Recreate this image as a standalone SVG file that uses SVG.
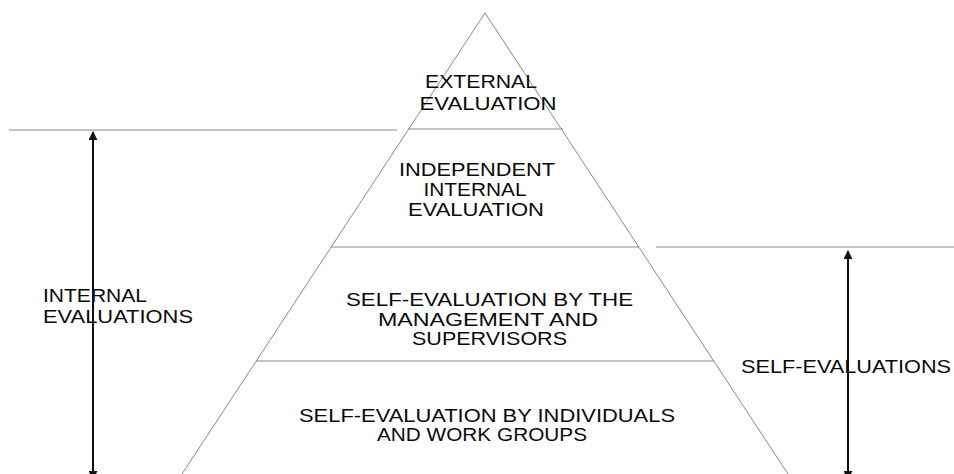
<svg xmlns="http://www.w3.org/2000/svg" width="954" height="474" viewBox="0 0 954 474">
<defs>
<style>
.ln{stroke:#8a8a8a;stroke-width:1;fill:none}
.ar{stroke:#111;stroke-width:2;fill:none}
text{font-family:"Liberation Sans",Arial,sans-serif;font-size:18.5px;fill:#0a0a0a}
.c{text-anchor:middle}
</style>
<marker id="ah" viewBox="0 0 10 10" refX="9" refY="5" markerWidth="4.5" markerHeight="4.5" orient="auto-start-reverse" markerUnits="strokeWidth">
<path d="M0,0 L10,5 L0,10 z" fill="#111"/>
</marker>
</defs>
<rect width="954" height="474" fill="#fff"/>
<g id="pyramid">
<polyline class="ln" points="182,474 485,13 788,474"/>
</g>
<g id="external-evaluation">
<text class="c" x="481" y="88" textLength="112" lengthAdjust="spacingAndGlyphs">EXTERNAL</text>
<text class="c" x="488" y="110" textLength="137" lengthAdjust="spacingAndGlyphs">EVALUATION</text>
</g>
<g id="independent-internal-evaluation">
<line class="ln" x1="408" y1="129" x2="563" y2="129"/>
<text class="c" x="477" y="176" textLength="156" lengthAdjust="spacingAndGlyphs">INDEPENDENT</text>
<text class="c" x="475" y="196" textLength="103" lengthAdjust="spacingAndGlyphs">INTERNAL</text>
<text class="c" x="476" y="216" textLength="136" lengthAdjust="spacingAndGlyphs">EVALUATION</text>
</g>
<g id="self-evaluation-management">
<line class="ln" x1="331" y1="247" x2="639" y2="247"/>
<text class="c" x="489.5" y="306" textLength="287" lengthAdjust="spacingAndGlyphs">SELF-EVALUATION BY THE</text>
<text class="c" x="488" y="325.5" textLength="220" lengthAdjust="spacingAndGlyphs">MANAGEMENT AND</text>
<text class="c" x="489.5" y="345" textLength="155" lengthAdjust="spacingAndGlyphs">SUPERVISORS</text>
</g>
<g id="self-evaluation-individuals">
<line class="ln" x1="256" y1="361" x2="714" y2="361"/>
<text class="c" x="487" y="422" textLength="376" lengthAdjust="spacingAndGlyphs">SELF-EVALUATION BY INDIVIDUALS</text>
<text class="c" x="482" y="441" textLength="210" lengthAdjust="spacingAndGlyphs">AND WORK GROUPS</text>
</g>
<g id="internal-evaluations">
<line class="ln" x1="9" y1="130" x2="397" y2="130"/>
<text x="43" y="302" textLength="104" lengthAdjust="spacingAndGlyphs">INTERNAL</text>
<text x="43" y="323" textLength="150" lengthAdjust="spacingAndGlyphs">EVALUATIONS</text>
</g>
<g id="self-evaluations">
<line class="ln" x1="656" y1="247" x2="954" y2="247"/>
<text x="741" y="373" textLength="210" lengthAdjust="spacingAndGlyphs">SELF-EVALUATIONS</text>
</g>
<g id="connectors">
<line class="ar" x1="93" y1="132" x2="93" y2="479" marker-start="url(#ah)" marker-end="url(#ah)"/>
<line class="ar" x1="848" y1="251" x2="848" y2="479" marker-start="url(#ah)" marker-end="url(#ah)"/>
</g>
</svg>
